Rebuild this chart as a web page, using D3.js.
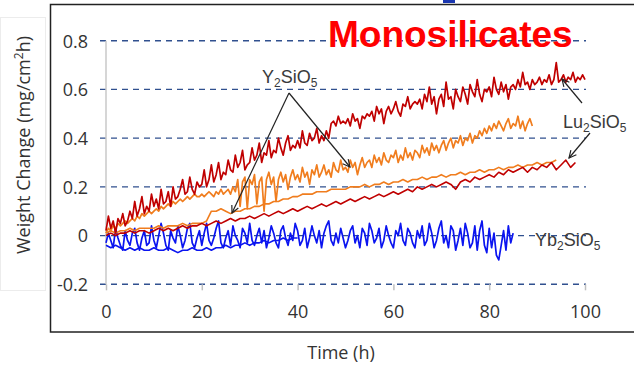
<!DOCTYPE html>
<html><head><meta charset="utf-8">
<script src="https://cdn.jsdelivr.net/npm/d3@7"></script>
<style>
html,body{margin:0;padding:0;background:#fff;}
svg{display:block;}
</style></head>
<body>
<svg id="chart" width="634" height="370"></svg>
<script>
// ---------- data ----------
const xTicks = [0, 20, 40, 60, 80, 100];
const yTicks = [-0.2, 0, 0.2, 0.4, 0.6, 0.8];
const yTickLabels = ["-0.2", "0", "0.2", "0.4", "0.6", "0.8"];

// Lu2SiO5 (upper, noisy) sampled every 0.5 h, 0..100 h
const luHighStep = 0.5;
const luHigh = [
0.02,0.08,0.03,0.06,0.01,0.07,0.05,0.09,0.04,0.06,
0.10,0.07,0.14,0.08,0.11,0.16,0.09,0.12,0.10,0.17,
0.12,0.15,0.11,0.19,0.13,0.14,0.18,0.12,0.20,0.15,
0.16,0.19,0.23,0.17,0.18,0.24,0.19,0.17,0.22,0.20,
0.21,0.27,0.20,0.23,0.29,0.22,0.25,0.30,0.23,0.26,
0.25,0.31,0.27,0.26,0.33,0.28,0.30,0.35,0.27,0.29,
0.30,0.36,0.31,0.33,0.38,0.30,0.34,0.33,0.39,0.32,
0.35,0.34,0.40,0.36,0.33,0.38,0.41,0.35,0.37,0.36,
0.39,0.36,0.43,0.38,0.37,0.42,0.39,0.40,0.44,0.38,
0.41,0.39,0.43,0.40,0.46,0.47,0.45,0.49,0.46,0.47,
0.46,0.48,0.45,0.50,0.47,0.48,0.44,0.49,0.48,0.50,
0.49,0.51,0.47,0.53,0.50,0.52,0.46,0.51,0.53,0.50,
0.52,0.55,0.51,0.49,0.54,0.53,0.57,0.52,0.54,0.55,
0.54,0.56,0.52,0.58,0.55,0.61,0.54,0.57,0.50,0.56,
0.58,0.53,0.63,0.56,0.57,0.52,0.60,0.57,0.55,0.61,
0.58,0.54,0.62,0.59,0.57,0.64,0.58,0.55,0.60,0.59,
0.61,0.57,0.65,0.60,0.58,0.63,0.59,0.62,0.56,0.61,
0.62,0.60,0.64,0.61,0.67,0.62,0.63,0.60,0.64,0.62,
0.63,0.65,0.62,0.64,0.63,0.66,0.62,0.64,0.71,0.63,
0.64,0.66,0.63,0.65,0.64,0.67,0.63,0.65,0.64,0.66,0.64
];

// Lu2SiO5 (lower) sampled every 1 h, 0..98 h
const luLowStep = 1;
const luLow = [
0.00,0.01,0.00,0.01,0.01,0.02,0.01,0.02,0.02,0.01,
0.02,0.03,0.02,0.03,0.02,0.03,0.04,0.03,0.04,0.04,
0.05,0.04,0.05,0.06,0.05,0.06,0.07,0.06,0.07,0.07,
0.08,0.07,0.08,0.09,0.08,0.09,0.10,0.09,0.10,0.11,
0.10,0.11,0.12,0.11,0.12,0.13,0.12,0.13,0.14,0.13,
0.14,0.15,0.14,0.15,0.16,0.15,0.16,0.17,0.16,0.17,
0.18,0.17,0.18,0.19,0.18,0.20,0.19,0.20,0.21,0.20,
0.21,0.22,0.21,0.19,0.22,0.23,0.22,0.24,0.23,0.24,
0.25,0.24,0.26,0.25,0.27,0.26,0.27,0.28,0.26,0.28,
0.27,0.29,0.28,0.30,0.27,0.29,0.31,0.28,0.30
];

// Y2SiO5 (upper, noisy) sampled every 0.5 h, 0..89 h
const yHighStep = 0.5;
const yHigh = [
0.01,0.03,0.02,0.04,0.03,0.05,0.04,0.05,0.06,0.05,
0.06,0.07,0.06,0.08,0.07,0.09,0.08,0.09,0.10,0.09,
0.10,0.11,0.10,0.12,0.11,0.12,0.13,0.12,0.14,0.13,
0.14,0.15,0.14,0.15,0.16,0.15,0.16,0.17,0.16,0.16,
0.17,0.16,0.17,0.18,0.17,0.16,0.18,0.17,0.19,0.17,
0.18,0.19,0.17,0.20,0.18,0.23,0.12,0.22,0.24,0.11,
0.23,0.21,0.25,0.13,0.22,0.24,0.10,0.23,0.26,0.21,
0.24,0.14,0.23,0.26,0.22,0.25,0.19,0.24,0.27,0.23,
0.25,0.22,0.28,0.24,0.26,0.21,0.27,0.25,0.29,0.24,
0.26,0.29,0.25,0.27,0.24,0.30,0.27,0.26,0.31,0.27,
0.28,0.26,0.31,0.28,0.30,0.25,0.29,0.32,0.28,0.30,
0.31,0.28,0.33,0.30,0.32,0.29,0.34,0.31,0.30,0.33,
0.32,0.35,0.30,0.33,0.31,0.36,0.32,0.34,0.31,0.35,
0.34,0.32,0.37,0.34,0.36,0.33,0.38,0.35,0.37,0.34,
0.37,0.39,0.35,0.38,0.40,0.36,0.39,0.38,0.41,0.37,
0.40,0.39,0.42,0.38,0.41,0.40,0.43,0.41,0.44,0.42,
0.45,0.43,0.46,0.44,0.47,0.45,0.43,0.46,0.48,0.44,
0.46,0.45,0.49,0.44,0.47,0.43,0.46,0.48,0.45
];

// Y2SiO5 (lower) sampled every 1 h, 0..94 h
const yLowStep = 1;
const yLow = [
0.01,0.02,0.01,0.02,0.02,0.03,0.02,0.03,0.03,0.03,
0.03,0.04,0.03,0.04,0.04,0.04,0.05,0.04,0.05,0.05,
0.05,0.06,0.10,0.10,0.11,0.10,0.09,0.10,0.10,0.11,
0.11,0.12,0.12,0.13,0.13,0.14,0.14,0.15,0.15,0.16,
0.16,0.17,0.17,0.17,0.18,0.18,0.18,0.19,0.19,0.19,
0.19,0.20,0.20,0.20,0.21,0.20,0.21,0.21,0.22,0.21,
0.22,0.22,0.23,0.22,0.23,0.23,0.24,0.23,0.24,0.24,
0.25,0.24,0.25,0.25,0.26,0.25,0.26,0.26,0.27,0.26,
0.27,0.27,0.28,0.27,0.28,0.28,0.29,0.28,0.29,0.29,
0.30,0.29,0.30,0.30,0.31
];

// Yb2SiO5 (noisy) sampled every 0.5 h, 0..85 h
const ybHighStep = 0.5;
const ybHigh = [
-0.03,0.01,-0.02,-0.05,0.03,-0.01,-0.04,-0.06,0.02,-0.02,
-0.04,0.01,0.03,-0.03,-0.06,-0.01,0.02,-0.04,-0.03,0.04,
-0.02,-0.05,0.00,0.05,0.01,-0.04,-0.06,0.02,-0.01,-0.03,
0.04,0.00,-0.05,-0.02,0.03,0.05,-0.03,-0.05,-0.01,0.02,
-0.04,0.01,0.05,-0.02,-0.04,-0.01,0.03,0.06,-0.03,-0.05,
-0.01,0.02,-0.04,0.04,0.00,-0.02,-0.05,0.03,0.01,-0.03,
0.05,-0.02,-0.04,0.00,0.03,-0.03,0.02,-0.05,-0.01,0.04,
0.01,-0.03,-0.05,0.02,0.04,-0.01,-0.04,0.01,-0.02,0.05,
0.02,-0.04,-0.02,0.03,-0.05,-0.01,0.04,0.00,-0.03,0.02,
-0.05,0.01,0.04,0.06,-0.02,-0.04,0.01,-0.03,0.03,-0.01,
-0.05,-0.02,0.02,0.04,-0.03,0.00,-0.05,0.03,0.01,-0.04,
0.05,0.02,-0.03,-0.01,0.03,-0.05,-0.02,0.04,0.00,-0.03,
-0.05,0.02,0.00,0.05,-0.02,-0.04,0.03,0.01,-0.03,-0.05,
0.02,-0.01,0.04,-0.04,-0.02,0.05,0.01,-0.05,-0.02,0.03,
0.06,-0.03,0.00,-0.05,0.04,0.02,-0.06,-0.02,0.03,-0.04,
0.05,0.01,-0.05,-0.03,0.04,-0.06,0.02,0.06,-0.04,-0.07,
0.03,-0.05,0.01,-0.08,-0.10,-0.04,0.02,-0.06,0.04,-0.03,
0.01
];

// Yb2SiO5 (lower) sampled every 1 h, 0..40 h
const ybLowStep = 1;
const ybLow = [
-0.04,-0.05,-0.04,-0.05,-0.06,-0.05,-0.06,-0.05,-0.06,-0.06,
-0.05,-0.06,-0.06,-0.05,-0.06,-0.07,-0.06,-0.06,-0.05,-0.06,
-0.06,-0.05,-0.06,-0.05,-0.05,-0.04,-0.05,-0.04,-0.04,-0.03,
-0.04,-0.03,-0.03,-0.02,-0.03,-0.02,-0.02,-0.01,-0.02,-0.01,-0.01
];

const colors = { lu: "#c00000", y: "#f07d1e", yb: "#0a14f0" };

// ---------- chart ----------
const svg = d3.select("#chart");
const x = d3.scaleLinear().domain([0, 100]).range([106, 585]);
const y = d3.scaleLinear().domain([-0.2, 0.8]).range([284.3, 40.7]);
const FONT = "'Open Sans', sans-serif";
const ARIAL = "'Liberation Sans', Arial, sans-serif";

// faint outer frame and plot border
svg.append("rect").attr("x", 0.5).attr("y", 17.5).attr("width", 45).attr("height", 273)
  .attr("fill", "none").attr("stroke", "#ececec").attr("stroke-width", 1);
svg.append("rect").attr("x", 443).attr("y", -2).attr("width", 12).attr("height", 5).attr("fill", "#1a36b0");
svg.append("rect").attr("x", 50.5).attr("y", 4.5).attr("width", 600).attr("height", 327.5)
  .attr("fill", "#fff").attr("stroke", "#222").attr("stroke-width", 1.5);

// gridlines
svg.append("g").selectAll("line").data(yTicks).join("line")
  .attr("x1", 100).attr("x2", 586)
  .attr("y1", d => y(d)).attr("y2", d => y(d))
  .attr("stroke", "#30508f").attr("stroke-width", 1.4).attr("stroke-dasharray", "6,5");

// y axis line
svg.append("line").attr("x1", x(0)).attr("x2", x(0)).attr("y1", y(0.8)).attr("y2", y(-0.2))
  .attr("stroke", "#c8c8c8").attr("stroke-width", 1.5);

// x axis ticks + labels
const xAxis = d3.axisBottom(x).tickValues(xTicks).tickSize(6).tickSizeOuter(0).tickFormat(d3.format("d"));
const gx = svg.append("g").attr("transform", `translate(0,${y(-0.2)})`).call(xAxis);
gx.select(".domain").remove();
gx.selectAll(".tick line").attr("stroke", "#c0c0c0").attr("stroke-width", 1.5);
gx.selectAll(".tick text").attr("font-family", FONT).attr("font-size", 18).attr("fill", "#333")
  .attr("dy", null).attr("y", 34);

// y axis labels
const yAxis = d3.axisLeft(y).tickValues(yTicks).tickSize(0).tickFormat((d, i) => yTickLabels[i]);
const gy = svg.append("g").attr("transform", `translate(88,0)`).call(yAxis);
gy.select(".domain").remove();
gy.selectAll(".tick text").attr("font-family", FONT).attr("font-size", 18).attr("fill", "#333")
  .attr("x", 0).attr("dy", "0.35em");

// series
const mk = (vals, step) => vals.map((v, i) => [i * step, v]);
const line = d3.line().x(d => x(d[0])).y(d => y(d[1]));
const series = [
  { data: mk(ybLow, ybLowStep), c: colors.yb, w: 1.6 },
  { data: mk(ybHigh, ybHighStep), c: colors.yb, w: 1.7 },
  { data: mk(yLow, yLowStep), c: colors.y, w: 1.6 },
  { data: mk(yHigh, yHighStep), c: colors.y, w: 1.7 },
  { data: mk(luLow, luLowStep), c: colors.lu, w: 1.6 },
  { data: mk(luHigh, luHighStep), c: colors.lu, w: 1.7 }
];
svg.append("g").selectAll("path").data(series).join("path")
  .attr("d", d => line(d.data)).attr("fill", "none")
  .attr("stroke", d => d.c).attr("stroke-width", d => d.w).attr("stroke-linejoin", "round");

// axis titles
svg.append("text").attr("x", 341).attr("y", 359).attr("text-anchor", "middle")
  .attr("font-family", FONT).attr("font-size", 18).attr("fill", "#333").text("Time (h)");
const yt = svg.append("text").attr("transform", "translate(30,145) rotate(-90)").attr("text-anchor", "middle")
  .attr("font-family", FONT).attr("font-size", 18).attr("fill", "#333");
yt.append("tspan").text("Weight Change (mg/cm");
yt.append("tspan").attr("font-size", 12).attr("dy", -7).text("2");
yt.append("tspan").attr("dy", 7).text("h)");

// title
svg.append("text").attr("x", 328).attr("y", 47).attr("font-family", ARIAL).attr("font-weight", "bold")
  .attr("font-size", 37).attr("fill", "#ff0000").text("Monosilicates");

// annotations
function chem(xp, yp, parts) {
  const t = svg.append("text").attr("x", xp).attr("y", yp).attr("font-family", ARIAL)
    .attr("font-size", 18).attr("fill", "#3a3a3a");
  let sub = false;
  parts.forEach(p => {
    const isSub = /^\d$/.test(p);
    const ts = t.append("tspan").text(p);
    if (isSub) { ts.attr("font-size", 12).attr("dy", sub ? 0 : 4); sub = true; }
    else { ts.attr("dy", sub ? -4 : 0); sub = false; }
  });
}
chem(262, 83, ["Y", "2", "SiO", "5"]);
chem(563, 128, ["Lu", "2", "SiO", "5"]);
chem(535, 246, ["Yb", "2", "SiO", "5"]);

svg.append("defs").append("marker").attr("id", "arr").attr("viewBox", "0 0 10 10")
  .attr("refX", 9).attr("refY", 5).attr("markerWidth", 9).attr("markerHeight", 9)
  .attr("markerUnits", "userSpaceOnUse").attr("orient", "auto")
  .append("path").attr("d", "M1,1 L9,5 L1,9").attr("fill", "none").attr("stroke", "#222").attr("stroke-width", 1.3);

const arrows = [
  [289, 93, 232, 213], [289, 93, 350, 167],
  [582, 103, 562, 79], [590, 133, 569, 158]
];
svg.append("g").selectAll("line").data(arrows).join("line")
  .attr("x1", d => d[0]).attr("y1", d => d[1]).attr("x2", d => d[2]).attr("y2", d => d[3])
  .attr("stroke", "#222").attr("stroke-width", 1.2).attr("marker-end", "url(#arr)");
</script>
</body></html>
